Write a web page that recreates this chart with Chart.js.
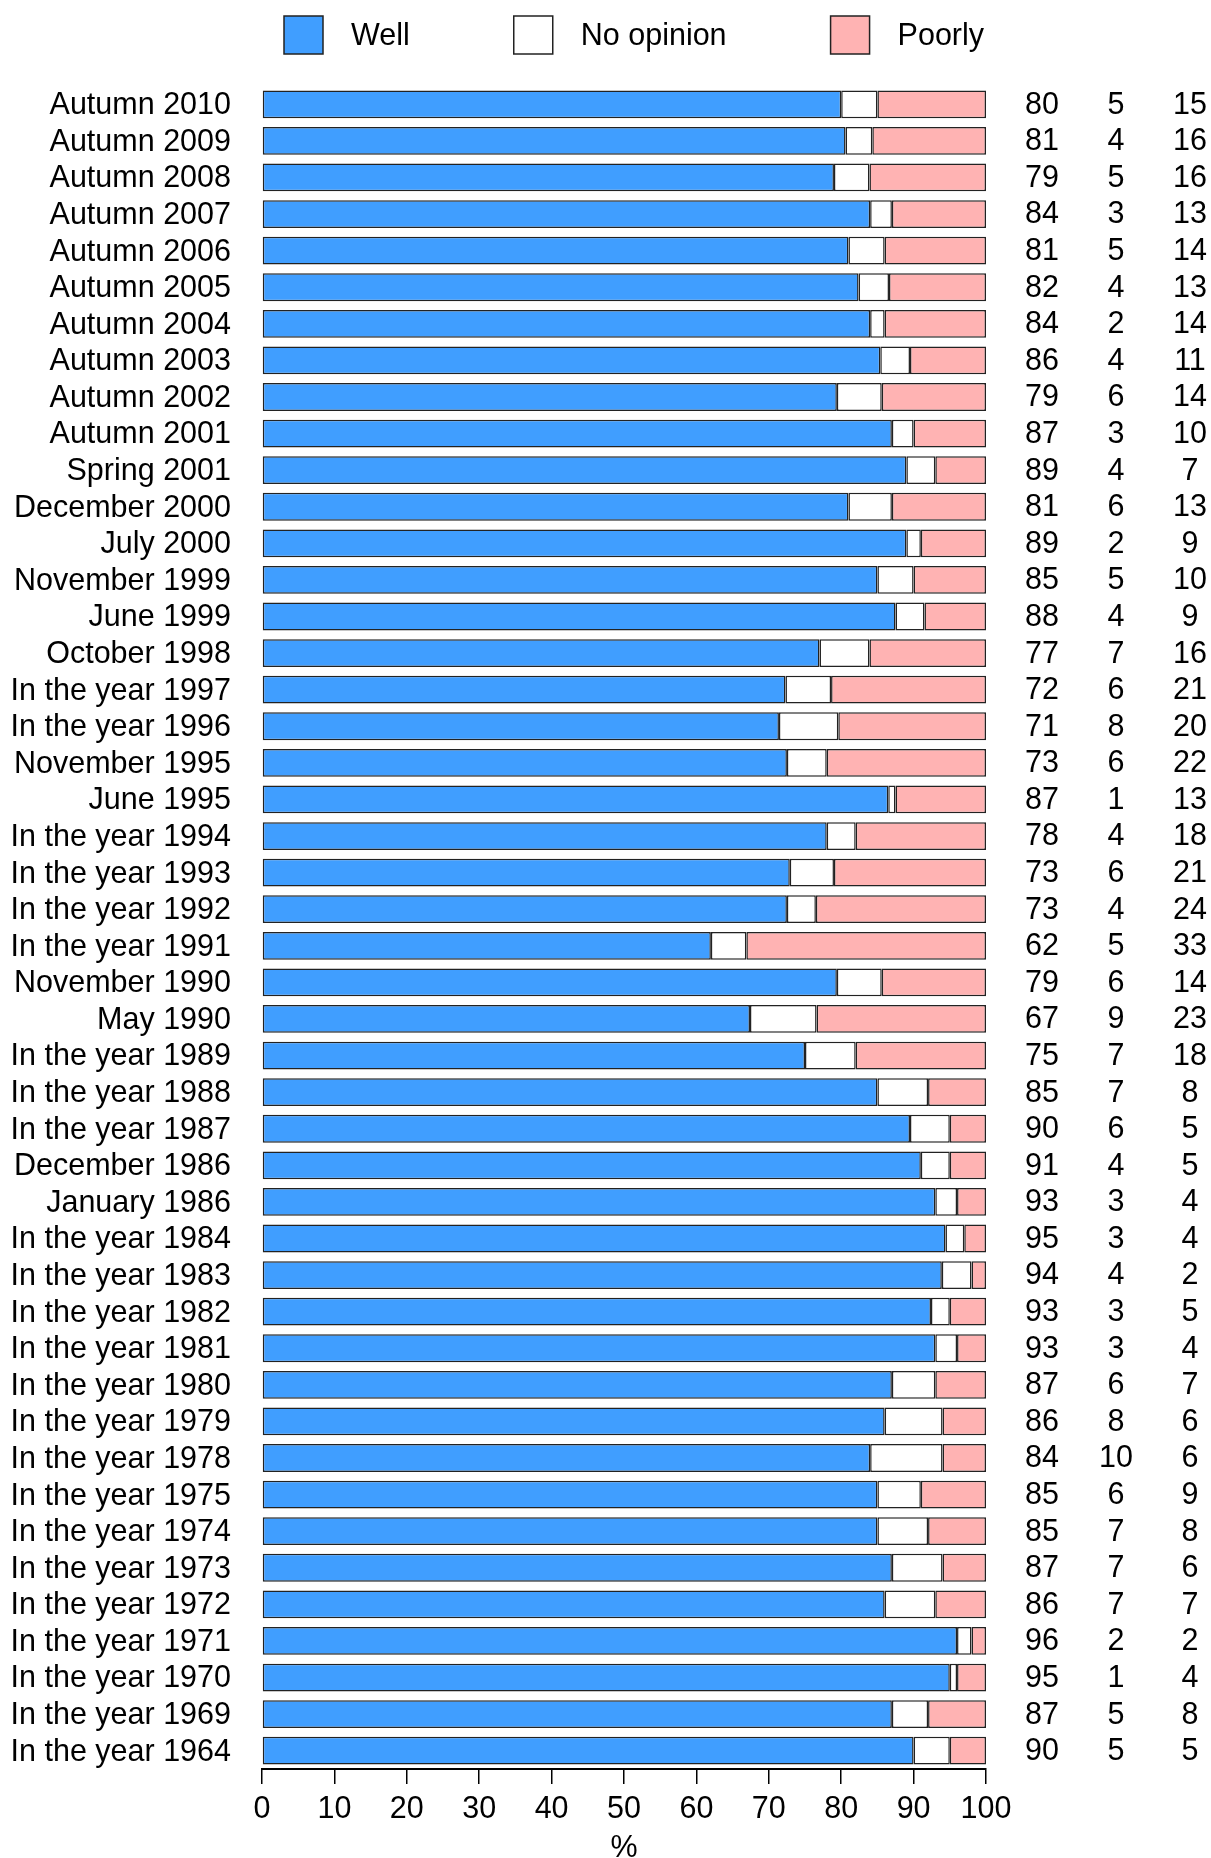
<!DOCTYPE html>
<html>
<head>
<meta charset="utf-8">
<script src="https://cdn.jsdelivr.net/npm/chart.js@4.4.1/dist/chart.umd.min.js"></script>
<style>
  html, body { margin: 0; padding: 0; background: #fff; }
  #wrap { width: 1211px; height: 1858px; }
</style>
</head>
<body>
<div id="wrap"><canvas id="chart" width="1211" height="1858"></canvas></div>
<script>
const categories = [
  'Autumn 2010', 'Autumn 2009', 'Autumn 2008', 'Autumn 2007', 'Autumn 2006', 'Autumn 2005',
  'Autumn 2004', 'Autumn 2003', 'Autumn 2002', 'Autumn 2001', 'Spring 2001', 'December 2000',
  'July 2000', 'November 1999', 'June 1999', 'October 1998', 'In the year 1997', 'In the year 1996',
  'November 1995', 'June 1995', 'In the year 1994', 'In the year 1993', 'In the year 1992',
  'In the year 1991', 'November 1990', 'May 1990', 'In the year 1989', 'In the year 1988',
  'In the year 1987', 'December 1986', 'January 1986', 'In the year 1984', 'In the year 1983',
  'In the year 1982', 'In the year 1981', 'In the year 1980', 'In the year 1979', 'In the year 1978',
  'In the year 1975', 'In the year 1974', 'In the year 1973', 'In the year 1972', 'In the year 1971',
  'In the year 1970', 'In the year 1969', 'In the year 1964'
];

// bar lengths (%)
const well = [80, 80.6, 79, 84, 81, 82.4, 84, 85.4, 79.4, 87, 89, 81, 89, 85, 87.5, 77, 72.3, 71.4,
  72.5, 86.5, 78, 72.9, 72.5, 62, 79.4, 67.4, 75, 85, 89.5, 91, 93, 94.4, 93.9, 92.4, 93, 87, 86, 84,
  85, 85, 87, 86, 96, 95, 87, 90];
const noOpinion = [5, 3.7, 4.9, 3, 5, 4.2, 2, 4.1, 6.2, 3, 4, 6, 2, 5, 4, 6.9, 6.3, 8.2, 5.5, 1, 4,
  6.1, 4, 4.9, 6.2, 9.2, 7, 7, 5.5, 4, 3, 2.6, 4.1, 2.6, 3, 6, 8, 10, 6, 7, 7, 7, 2, 1, 5, 5];
const poorly = [15, 15.7, 16.1, 13, 14, 13.4, 14, 10.5, 14.4, 10, 7, 13, 9, 10, 8.5, 16.1, 21.4, 20.4,
  22, 12.5, 18, 21, 23.5, 33.1, 14.4, 23.4, 18, 8, 5, 5, 4, 3, 2, 5, 4, 7, 6, 6, 9, 8, 6, 7, 2, 4, 8, 5];

// printed numbers in the right-hand columns
const wellLabels = [80, 81, 79, 84, 81, 82, 84, 86, 79, 87, 89, 81, 89, 85, 88, 77, 72, 71, 73, 87, 78,
  73, 73, 62, 79, 67, 75, 85, 90, 91, 93, 95, 94, 93, 93, 87, 86, 84, 85, 85, 87, 86, 96, 95, 87, 90];
const noOpinionLabels = [5, 4, 5, 3, 5, 4, 2, 4, 6, 3, 4, 6, 2, 5, 4, 7, 6, 8, 6, 1, 4, 6, 4, 5, 6, 9,
  7, 7, 6, 4, 3, 3, 4, 3, 3, 6, 8, 10, 6, 7, 7, 7, 2, 1, 5, 5];
const poorlyLabels = [15, 16, 16, 13, 14, 13, 14, 11, 14, 10, 7, 13, 9, 10, 9, 16, 21, 20, 22, 13, 18,
  21, 24, 33, 14, 23, 18, 8, 5, 5, 4, 4, 2, 5, 4, 7, 6, 6, 9, 8, 6, 7, 2, 4, 8, 5];

const xTicks = [0, 10, 20, 30, 40, 50, 60, 70, 80, 90, 100];

const FONT = '"Liberation Sans", Arial, Helvetica, sans-serif';
const BORDER = '#222';

// legend on top, drawn by hand so the spacing matches
const topLegend = {
  id: 'topLegend',
  afterDraw(chart) {
    const ctx = chart.ctx;
    ctx.save();
    ctx.font = '30.5px ' + FONT;
    ctx.textBaseline = 'middle';
    ctx.textAlign = 'left';
    let x = chart.chartArea.left + 22;
    chart.data.datasets.forEach(ds => {
      ctx.fillStyle = ds.backgroundColor;
      ctx.fillRect(x, 16, 39, 38);
      ctx.strokeStyle = BORDER;
      ctx.lineWidth = 1.5;
      ctx.strokeRect(x, 16, 39, 38);
      ctx.fillStyle = '#000';
      ctx.fillText(ds.label, x + 67, 37);
      x += 67 + ctx.measureText(ds.label).width + 104;
    });
    ctx.restore();
  }
};

// the three columns of numbers right of the bars
const valueColumns = {
  id: 'valueColumns',
  afterDatasetsDraw(chart) {
    const ctx = chart.ctx;
    const y = chart.scales.y;
    const right = chart.chartArea.right;
    const cols = [[wellLabels, 56], [noOpinionLabels, 130], [poorlyLabels, 204]];
    ctx.save();
    ctx.font = '30.5px ' + FONT;
    ctx.fillStyle = '#000';
    ctx.textAlign = 'center';
    ctx.textBaseline = 'middle';
    categories.forEach((c, i) => {
      const py = y.getPixelForValue(i) + 1;
      cols.forEach(([arr, dx]) => ctx.fillText(String(arr[i]), right + dx, py));
    });
    ctx.restore();
  }
};

new Chart(document.getElementById('chart'), {
  type: 'bar',
  data: {
    labels: categories,
    datasets: [
      { label: 'Well', data: well, backgroundColor: '#409EFF' },
      { label: 'No opinion', data: noOpinion, backgroundColor: '#FFFFFF' },
      { label: 'Poorly', data: poorly, backgroundColor: '#FFB3B3' }
    ]
  },
  options: {
    indexAxis: 'y',
    responsive: false,
    animation: false,
    devicePixelRatio: 1,
    layout: { padding: { top: 86, right: 225, bottom: 0, left: 0 } },
    datasets: {
      bar: {
        borderColor: BORDER,
        borderWidth: 1.5,
        borderSkipped: false,
        categoryPercentage: 1,
        barPercentage: 0.76
      }
    },
    plugins: {
      legend: { display: false },
      tooltip: { enabled: false }
    },
    scales: {
      x: {
        stacked: true,
        min: 0,
        max: 100,
        afterBuildTicks: s => { s.ticks = xTicks.map(v => ({ value: v })); },
        afterFit: s => { s.height = 89; },
        ticks: { color: '#000', font: { family: FONT, size: 30.5 }, padding: 7, maxRotation: 0 },
        grid: { drawOnChartArea: false, drawTicks: true, tickLength: 15, color: '#000', lineWidth: 1.5 },
        border: { display: true, color: '#000', width: 2 },
        title: { display: true, text: '%', color: '#000', font: { family: FONT, size: 30.5 }, padding: { top: 0, bottom: -9 } }
      },
      y: {
        stacked: true,
        afterFit: s => { s.width = 262; },
        ticks: { color: '#000', font: { family: FONT, size: 30.5 }, padding: 31, labelOffset: 1.5, autoSkip: false },
        grid: { display: false, drawTicks: false },
        border: { display: false }
      }
    }
  },
  plugins: [topLegend, valueColumns]
});
</script>
</body>
</html>
